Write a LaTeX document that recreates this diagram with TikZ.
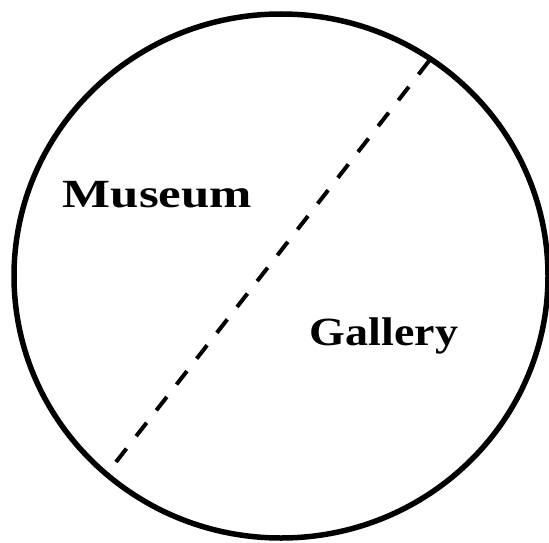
\documentclass[tikz,border=0pt]{standalone}
\usepackage{fontspec}
\setmainfont{Liberation Serif}
\tikzset{
  rim/.style={draw=black, line width=5.5pt},
  divider/.style={draw=black, line width=4pt, dash pattern=on 17pt off 15.78pt},
  label/.style={inner sep=0pt, anchor=base, font=\fontsize{40}{44}\selectfont\bfseries}
}
\begin{document}
\begin{tikzpicture}[x=1pt,y=-1pt]
  \useasboundingbox (0,0) rectangle (549,543);
  \clip (0,0) rectangle (549,543);
  \fill[white] (0,0) rectangle (549,543);
  \draw[rim] (281,276) ellipse [x radius=267, y radius=262];
  \coordinate (top) at (429,61);
  \coordinate (bot) at (116,462);
  \draw[divider] (top) -- (bot);
  \node[label] (museum) at (157.5,207) {\scalebox{1.27}[1]{Museum}};
  \node[label] (gallery) at (384,345) {\scalebox{1.15}[1]{Gallery}};
\end{tikzpicture}
\end{document}
